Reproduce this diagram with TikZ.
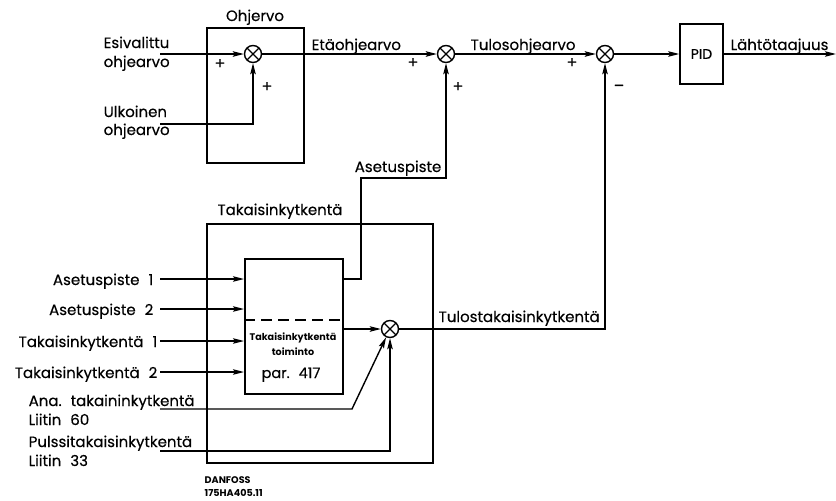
\documentclass[tikz,border=0pt]{standalone}
\usepackage{fontspec}
\setmainfont{Poppins}[UprightFeatures={FakeBold=0.35}]
\usetikzlibrary{arrows.meta}
\newcommand{\dsp}{\hspace{9pt}}
\begin{document}
\begin{tikzpicture}[x=1pt,y=-1pt, line width=1.4pt,
  every node/.style={inner sep=0pt, font=\fontsize{15}{17}\selectfont},
  sumj/.style={circle, draw, minimum size=17pt, inner sep=0pt,
    path picture={\draw[line width=1.3pt]
      (path picture bounding box.north west)--(path picture bounding box.south east)
      (path picture bounding box.north east)--(path picture bounding box.south west);}},
  arr/.style={-{Stealth[length=11pt,width=5.5pt,inset=2pt]}},
  blk/.style={draw, line width=1.5pt, anchor=north west},
  lbl/.style={anchor=base west},
  lblr/.style={anchor=base east},
  lblc/.style={anchor=base},
  smallb/.style={font=\bfseries\fontsize{9.6}{11}\selectfont},
  sign/.style={font=\fontsize{16}{18}\selectfont}
]
\useasboundingbox (0,0) rectangle (836,501);

% --- Ohjervo block
\node[blk, minimum width=97pt, minimum height=135pt] (ohj) at (206,27) {};
\node[lblc] (ohjt) at (255,21) {Ohjervo};
\node[sumj] (j1) at (253,54) {};
\node[sumj] (j2) at (446,54) {};
\node[sumj] (j3) at (605,54) {};
\node[draw, line width=1.5pt, minimum width=43pt, minimum height=60pt, font=\fontsize{14}{17}\selectfont] (pid) at (701.5,54) {PID};

\node[lbl] (esi1) at (103,48) {Esivalittu};
\node[lbl] (esi2) at (103,67) {ohjearvo};
\node[lbl] (ulk1) at (103,117) {Ulkoinen};
\node[lbl] (ulk2) at (103,135) {ohjearvo};
\coordinate (esiS) at (160,54);
\coordinate (ulkS) at (160,124);
\draw[arr] (esiS) -- (j1);
\draw[arr] (ulkS) -| (j1);
\node[sign] (p1) at (220,64) {+};
\node[sign] (p2) at (267,87) {+};

\draw[arr] (j1) -- (j2);
\node[lbl] (eta) at (311,50) {Etäohjearvo};
\node[sign] (p3) at (413,63) {+};
\node[sign] (p4) at (458,87) {+};
\draw[arr] (j2) -- (j3);
\node[lbl] (tulo) at (470,50) {Tulosohjearvo};
\node[sign] (p5) at (572,63) {+};
\node[sign] (m1) at (619,88) {\textendash};
\draw[arr] (j3) -- (pid);
\coordinate (outE) at (836,54);
\draw[arr] (pid) -- (outE);
\node[lbl] (lahto) at (730,50) {Lähtötaajuus};

% --- Takaisinkytkentä block
\node[draw, line width=2.2pt, anchor=north west, minimum width=226pt, minimum height=239pt] (tak) at (206,223) {};
\node[lblc] (takt) at (280,215) {Takaisinkytkentä};
\node[blk, minimum width=98pt, minimum height=135pt] (inner) at (244,258) {};
\coordinate (dl) at (244,320);
\coordinate (dr) at (342,320);
\draw[dash pattern=on 11pt off 6pt] (dl) -- (dr);
\node[lblc, smallb] (in1) at (293,340) {Takaisinkytkentä};
\node[lblc, smallb] (in2) at (293,355) {toiminto};
\node[lblc, font=\fontsize{14.5}{17}\selectfont] (in3) at (291,378) {par.\dsp 417};

\node[lblr] (a1) at (154,285) {Asetuspiste\dsp 1};
\node[lblr] (a2) at (154,315) {Asetuspiste\dsp 2};
\node[lblr] (t1) at (158,347) {Takaisinkytkentä\dsp 1};
\node[lblr] (t2) at (158,378) {Takaisinkytkentä\dsp 2};
\coordinate (a1S) at (160,279);
\coordinate (a2S) at (160,309);
\coordinate (t1S) at (160,341);
\coordinate (t2S) at (160,372);
\draw[arr] (a1S) -- (a1S -| inner.west);
\draw[arr] (a2S) -- (a2S -| inner.west);
\draw[arr] (t1S) -- (t1S -| inner.west);
\draw[arr] (t2S) -- (t2S -| inner.west);

% setpoint out
\coordinate (asOut) at (342,279);
\coordinate (asK) at (361,178);
\draw[arr] (asOut) -| (asK) -| (j2);
\node[lblr] (aset) at (442,172) {Asetuspiste};

% feedback sum
\node[sumj] (j4) at (390,329) {};
\coordinate (fbIn) at (342,329);
\draw[arr] (fbIn) -- (j4);
\draw[arr] (j4) -| (j3);
\node[lbl] (tulfb) at (438,322) {Tulostakaisinkytkentä};

\node[lbl] (ana1) at (28,406) {Ana.\dsp takaininkytkentä};
\node[lbl] (ana2) at (28,425) {Liitin\dsp 60};
\node[lbl] (pul1) at (28,447) {Pulssitakaisinkytkentä};
\node[lbl] (pul2) at (28,466) {Liitin\dsp 33};
\coordinate (anaS) at (160,409);
\coordinate (anaK) at (352,409);
\coordinate (pulS) at (160,451);
\draw[arr] (anaS) -- (anaK) -- (j4);
\draw[arr] (pulS) -| (j4);

\node[lbl, smallb] (dan1) at (204,483) {DANFOSS};
\node[lbl, smallb] (dan2) at (204,496) {175HA405.11};
\end{tikzpicture}
\end{document}
